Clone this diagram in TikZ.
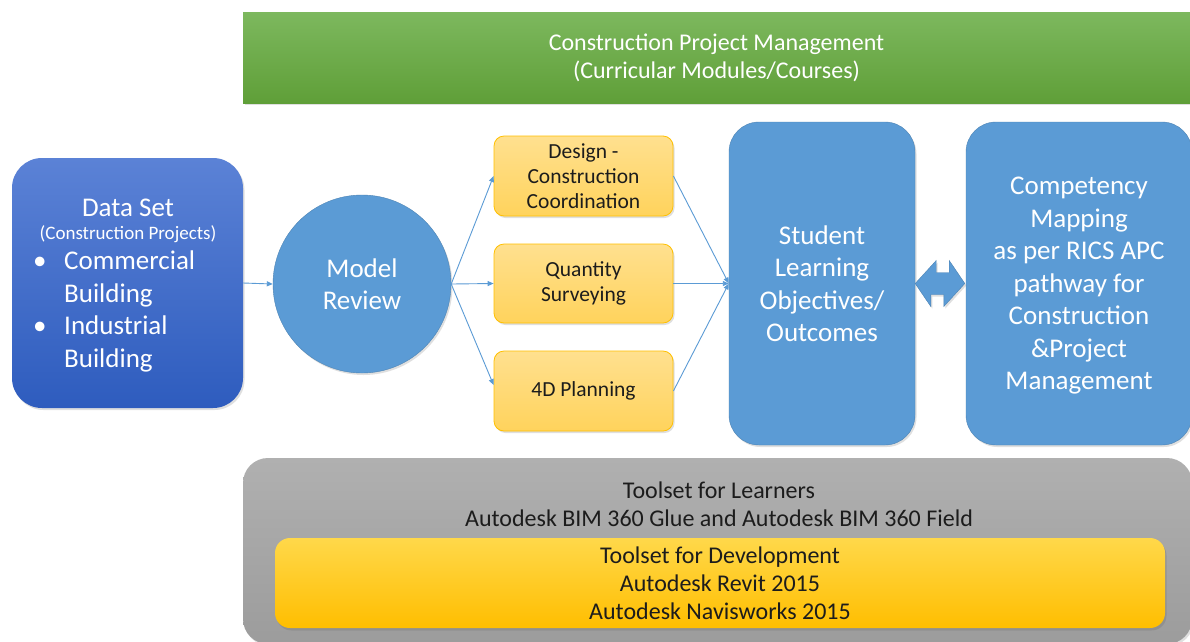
\documentclass[tikz,border=0pt]{standalone}
\usepackage{fontspec}
\setmainfont{Carlito}
\usetikzlibrary{arrows.meta,shadows}
\definecolor{accblue}{HTML}{5B9BD5}
\definecolor{greentop}{HTML}{7DB85E}
\definecolor{greenbot}{HTML}{5F9F38}
\definecolor{dstop}{HTML}{5B82D6}
\definecolor{dsbot}{HTML}{2E5CBE}
\definecolor{ortop}{HTML}{FFE08F}
\definecolor{orbot}{HTML}{FFD35C}
\definecolor{orline}{HTML}{FFC000}
\definecolor{graytop}{HTML}{B0B0B0}
\definecolor{graybot}{HTML}{9C9C9C}
\definecolor{yeltop}{HTML}{FFD84A}
\definecolor{yelbot}{HTML}{FFBE00}
\definecolor{txtdark}{HTML}{1C1C1C}
\tikzset{
  shade1/.style={drop shadow={opacity=0.25,shadow xshift=1.5pt,shadow yshift=-2pt}},
  bluebox/.style={rectangle, rounded corners=30pt, fill=accblue, draw=accblue!85!black, line width=0.4pt, text=white, align=center, font=\fontsize{27}{32.5}\selectfont, shade1},
  orbox/.style={rectangle, rounded corners=10pt, top color=ortop, bottom color=orbot, draw=orline, line width=0.8pt, minimum width=179pt, minimum height=80pt, text=txtdark, align=center, font=\fontsize{21.5}{25}\selectfont, shade1},
  conn/.style={draw=accblue, line width=0.9pt, -{Triangle[length=6pt,width=5pt]}},
}
\begin{document}
\begin{tikzpicture}[x=1pt,y=-1pt]
\useasboundingbox (0,0) rectangle (1190,641);
\fill[white] (0,0) rectangle (1190,641);
% top bar
\node[rectangle, top color=greentop, bottom color=greenbot, minimum width=947pt, minimum height=91pt, text=white, align=center, font=\fontsize{24}{28}\selectfont, shade1] (cpm) at (716.5,57.5) {Construction Project Management\\(Curricular Modules/Courses)};
% data set
\node[rectangle, rounded corners=30pt, top color=dstop, bottom color=dsbot, minimum width=231pt, minimum height=250pt, shade1] (data) at (127.5,283) {};
\node[text=white, align=center, font=\fontsize{27}{30}\selectfont, inner sep=0pt] (dst) at (128,208) {Data Set};
\node[text=white, align=center, font=\fontsize{19}{22}\selectfont, inner sep=0pt] (dsp) at (128,234) {(Construction Projects)};
\node[text=white, anchor=north west, inner sep=0pt, font=\fontsize{27}{32.5}\selectfont] (dsl) at (33,247) {%
\begin{tabular}{@{}p{31pt}@{}l@{}}
\textbullet & Commercial\\
 & Building\\
\textbullet & Industrial\\
 & Building
\end{tabular}};
% model review
\node[circle, fill=accblue, draw=accblue!85!black, line width=0.4pt, minimum size=178pt, text=white, align=center, font=\fontsize{27}{32.5}\selectfont, shade1] (model) at (362,284) {Model\\Review};
% orange boxes
\node[orbox] (d1) at (583.5,176) {Design -\\Construction\\Coordination};
\node[orbox, minimum height=79pt] (d2) at (583.5,283.5) {Quantity\\Surveying};
\node[orbox] (d3) at (583.5,391) {4D Planning};
% student / competency
\node[bluebox, minimum width=186pt, minimum height=323pt] (stu) at (822,283.5) {Student\\Learning\\Objectives/\\Outcomes};
\node[bluebox, minimum width=226pt, minimum height=323pt, text depth=0pt] (comp) at (1079,283.5) {\rule{0pt}{6pt}Competency\\Mapping\\as per RICS APC\\pathway for\\Construction\\\&Project\\Management};
% connectors
\draw[conn] (data.east) -- (model.west);
\draw[conn] (model.east) -- (d1.west);
\draw[conn] (model.east) -- (d2.west);
\draw[conn] (model.east) -- ([yshift=6pt]d3.west);
\draw[conn] (d1.east) -- (stu.west);
\draw[conn] (d2.east) -- (stu.west);
\draw[conn] (d3.east) -- (stu.west);
% double arrow between student and competency
\coordinate (dl) at (stu.east);
\coordinate (dr) at ([xshift=-1pt]comp.west);
\fill[accblue, draw=accblue!85!black, line width=0.4pt, shade1] (dl) -- ++(21,-23) -- ++(0,12) -- ++(13,0) -- ++(0,-12) -- (dr) -- ++(-21,23) -- ++(0,-12) -- ++(-13,0) -- ++(0,12) -- cycle;
% toolsets
\node[rectangle, rounded corners=25pt, top color=graytop, bottom color=graybot, minimum width=949pt, minimum height=186pt, shade1] (gray) at (717.5,551) {};
\node[text=txtdark, align=center, font=\fontsize{24}{28}\selectfont, inner sep=0pt] (learn) at (719,504) {Toolset for Learners\\Autodesk BIM 360 Glue and Autodesk BIM 360 Field};
\node[rectangle, rounded corners=15pt, top color=yeltop, bottom color=yelbot, minimum width=890pt, minimum height=90pt, text=txtdark, align=center, font=\fontsize{24}{28}\selectfont, drop shadow={opacity=0.45,shadow xshift=1.5pt,shadow yshift=-2.5pt}] (dev) at (720,583) {Toolset for Development\\Autodesk Revit 2015\\Autodesk Navisworks 2015};
\end{tikzpicture}
\end{document}
